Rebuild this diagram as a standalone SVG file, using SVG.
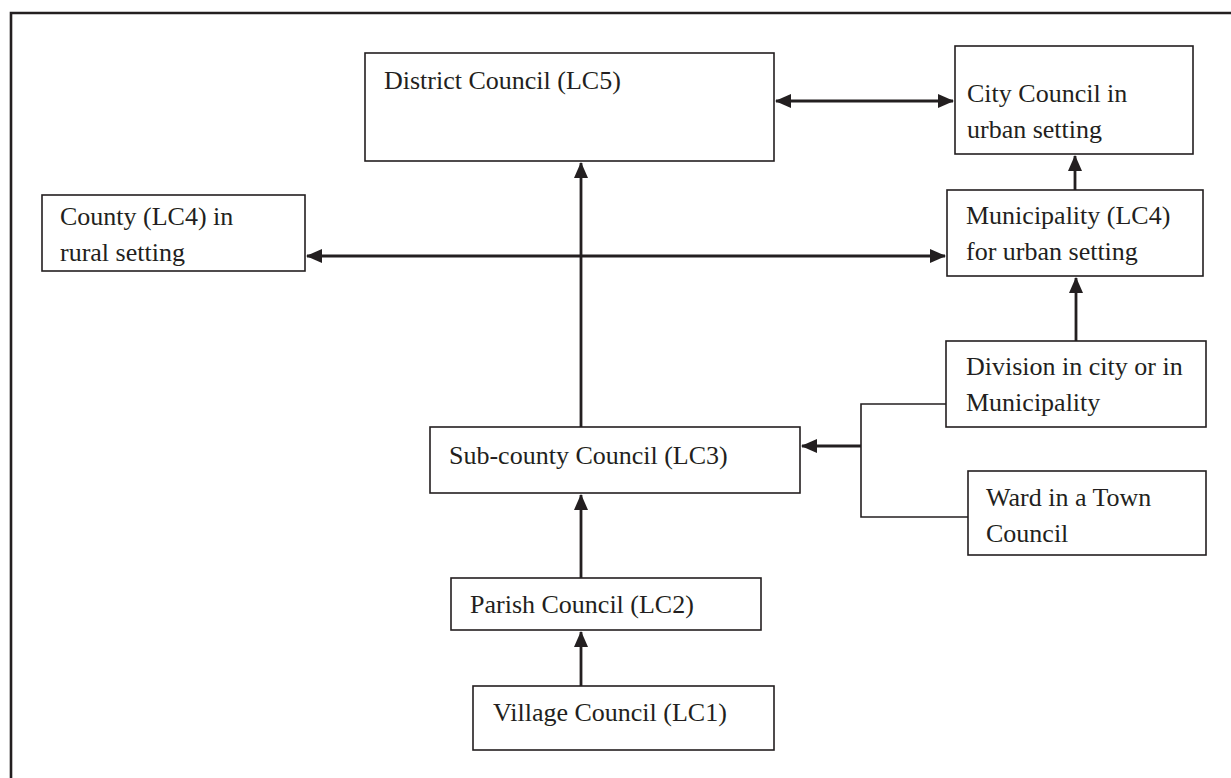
<svg xmlns="http://www.w3.org/2000/svg" width="1231" height="778" viewBox="0 0 1231 778">
<defs>
<marker id="ah" viewBox="0 0 16 14" refX="15" refY="7" markerWidth="16" markerHeight="14" markerUnits="userSpaceOnUse" orient="auto-start-reverse">
<path d="M0,0 L16,7 L0,14 Z" fill="#231f20"/>
</marker>
</defs>
<style>
.box{fill:#fff;stroke:#231f20;stroke-width:1.6}
.t{font-family:"Liberation Serif","Times New Roman",serif;font-size:26px;fill:#231f20}
.c{fill:none;stroke:#231f20;stroke-width:2.8}
.thin{fill:none;stroke:#231f20;stroke-width:1.6}
</style>
<rect width="1231" height="778" fill="#fff"/>
<path d="M11,778 L11,13 L1231,13" fill="none" stroke="#231f20" stroke-width="2.6"/>
<g id="connectors">
<line class="c" x1="776" y1="101" x2="953" y2="101" marker-start="url(#ah)" marker-end="url(#ah)"/>
<line class="c" x1="307" y1="256" x2="945" y2="256" marker-start="url(#ah)" marker-end="url(#ah)"/>
<line class="c" x1="581" y1="427" x2="581" y2="163" marker-end="url(#ah)"/>
<line class="c" x1="1075" y1="190" x2="1075" y2="156" marker-end="url(#ah)"/>
<line class="c" x1="1076" y1="341" x2="1076" y2="278" marker-end="url(#ah)"/>
<path class="thin" d="M946,404 L861,404 L861,517 L968,517"/>
<line class="c" x1="861" y1="446" x2="802" y2="446" marker-end="url(#ah)"/>
<line class="c" x1="581" y1="578" x2="581" y2="495" marker-end="url(#ah)"/>
<line class="c" x1="581" y1="686" x2="581" y2="632" marker-end="url(#ah)"/>
</g>
<g id="district"><rect class="box" x="365" y="53" width="409" height="108"/><text class="t" x="384" y="89">District Council (LC5)</text></g>
<g id="city"><rect class="box" x="955" y="46" width="238" height="108"/><text class="t" x="967" y="102">City Council in</text><text class="t" x="967" y="138">urban setting</text></g>
<g id="county"><rect class="box" x="42" y="195" width="263" height="76"/><text class="t" x="60" y="225">County (LC4) in</text><text class="t" x="60" y="261">rural setting</text></g>
<g id="municipality"><rect class="box" x="947" y="190" width="256" height="86"/><text class="t" x="966" y="224">Municipality (LC4)</text><text class="t" x="966" y="260">for urban setting</text></g>
<g id="division"><rect class="box" x="946" y="341" width="260" height="86"/><text class="t" x="966" y="375">Division in city or in</text><text class="t" x="966" y="411">Municipality</text></g>
<g id="subcounty"><rect class="box" x="430" y="427" width="370" height="66"/><text class="t" x="449" y="464">Sub-county Council (LC3)</text></g>
<g id="ward"><rect class="box" x="968" y="471" width="238" height="84"/><text class="t" x="986" y="506">Ward in a Town</text><text class="t" x="986" y="542">Council</text></g>
<g id="parish"><rect class="box" x="451" y="578" width="310" height="52"/><text class="t" x="470" y="613">Parish Council (LC2)</text></g>
<g id="village"><rect class="box" x="473" y="686" width="301" height="64"/><text class="t" x="493" y="721">Village Council (LC1)</text></g>
</svg>
